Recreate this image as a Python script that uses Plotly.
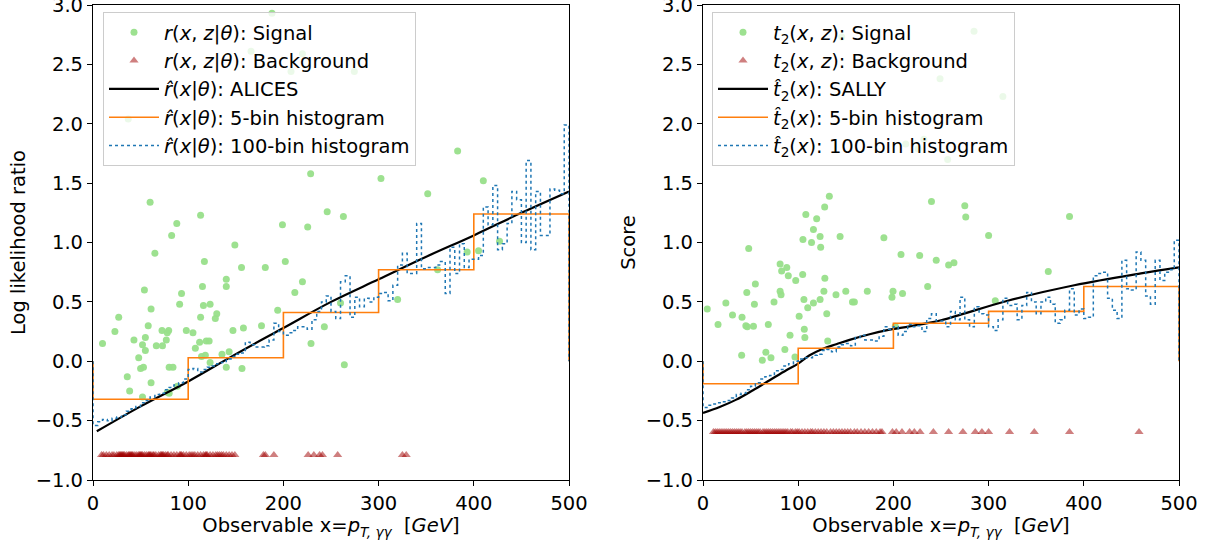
import numpy as np
import plotly.graph_objects as go

# ---------------- data: left panel (log likelihood ratio) ----------------
sig_left_x = [65, 117, 156, 181, 202, 140, 140, 220, 212, 54, 115, 93, 91, 116, 123, 130, 128.5, 113,
              61, 27, 194, 58, 23, 72.5, 79.5, 78, 98, 105, 147, 158, 177, 243, 43, 55, 77, 52, 66.5,
              73, 55, 112, 119, 122, 107.5, 10, 229, 48, 114, 118, 135.5, 143, 123, 50, 53, 80, 84,
              140, 156.5, 264, 36, 61, 38.5, 80, 88.6, 52, 78,
              246, 383, 228.6, 302.5, 410, 351.6, 246, 263, 199, 225.5, 427, 393, 405, 362, 320, 260,
              188, 166, 220, 208, 274.5, 37, 60, 88, 82.6, 113, 149]
sig_left_y = [0.91, 0.84, 0.79, 0.79, 0.84, 0.69, 0.63, 0.67, 0.58, 0.60, 0.63, 0.57, 0.48, 0.47, 0.48,
              0.40, 0.36, 0.37, 0.44, 0.37, 0.43, 0.30, 0.25, 0.26, 0.26, 0.24, 0.26, 0.24, 0.26, 0.28,
              0.30, 0.29, 0.18, 0.20, 0.18, 0.14, 0.13, 0.13, 0.09, 0.16, 0.17, 0.17, 0.11, 0.15, 0.15,
              0.03, 0.04, 0.05, 0.06, 0.08, -0.01, -0.06, -0.05, -0.05, -0.05, -0.05, -0.06, -0.03,
              -0.13, -0.18, -0.25, -0.27, -0.21, -0.30, -0.26,
              1.80, 1.77, 1.58, 1.54, 1.52, 1.41, 1.26, 1.22, 1.15, 1.13, 1.01, 0.92, 0.93, 0.77, 0.52, 0.49,
              2.93, 2.61, 2.59, 2.44, 2.44, 2.04, 1.34, 1.16, 1.06, 1.23, 0.98]

bkg_left_x = [9, 11, 14, 17, 20, 22, 25, 27, 28, 29, 30, 31, 32, 33, 35, 37, 38, 39, 40, 41, 42, 44,
              46, 48, 49, 50, 51, 52, 54, 56, 58, 59, 60, 61, 63, 64, 66, 69, 71, 72, 73, 74, 76, 78,
              79, 82, 85, 88, 91, 92, 93, 95, 98, 101, 103, 105, 107, 110, 113, 116, 118, 119, 120,
              123, 126, 129, 131, 133, 135, 137, 140, 143, 146, 149,
              179, 181, 190, 226, 232, 238, 241, 257, 325, 329]
bkg_left_level = -0.79

alices_x = [4, 50, 100, 150, 200, 250, 300, 350, 400, 450, 500]
alices_y = [-0.59, -0.38, -0.17, 0.06, 0.28, 0.50, 0.69, 0.88, 1.06, 1.25, 1.43]

hist5_left = [-0.32, 0.03, 0.41, 0.77, 1.24]

hist100_left = [-0.54, -0.51, -0.49, -0.50, -0.48, -0.47, -0.45, -0.42, -0.40, -0.38,
                -0.35, -0.33, -0.30, -0.28, -0.27, -0.24, -0.22, -0.20, -0.18, -0.15,
                -0.07, -0.06, -0.09, -0.07, -0.05, -0.04, -0.02, -0.01, 0.02, 0.04,
                0.06, 0.07, 0.16, 0.14, 0.12, 0.12, 0.13, 0.18, 0.32, 0.25,
                0.22, 0.24, 0.26, 0.29, 0.29, 0.27, 0.35, 0.42, 0.50, 0.55,
                0.42, 0.36, 0.67, 0.72, 0.37, 0.54, 0.46, 0.53, 0.50, 0.54,
                0.57, 0.58, 0.51, 0.64, 0.81, 0.91, 0.74, 0.74, 1.16, 0.78,
                0.79, 0.79, 0.81, 0.84, 0.57, 0.96, 0.74, 0.99, 0.79, 0.86,
                0.86, 0.89, 1.30, 1.15, 1.48, 0.94, 0.99, 1.16, 1.43, 1.36,
                1.00, 1.69, 0.94, 1.43, 1.06, 1.06, 1.45, 1.44, 1.41, 1.99]

# ---------------- data: right panel (score) ----------------
sig_right_x = [284.7, 145.7, 249, 213, 232, 226, 257, 315, 132.7, 108, 127.8, 119.4, 116, 105, 114,
               123, 123.6, 144, 190, 240, 275, 276, 300, 48, 81, 82.6, 88, 89.6, 97.4, 104.7, 55, 46,
               81, 82, 106, 116, 123, 128, 127, 139.7, 150, 157, 159, 172.6, 208, 227.6, 245, 258,
               263.6, 236, 199.6, 198.5, 209.6, 307, 4.5, 24, 31, 41, 54, 74.6, 15.8, 45, 46.5, 53,
               68.6, 101, 110, 130, 106.4, 107, 91.4, 131, 86, 66, 71.4, 62.3, 40.6, 96.6, 202, 385,
               362.7]
sig_right_y = [2.78, 2.73, 2.38, 1.83, 1.87, 1.79, 1.70, 2.23, 1.39, 1.235, 1.30, 1.20, 1.11, 1.025,
               1.00, 1.05, 0.96, 1.05, 1.04, 1.345, 1.31, 1.215, 1.06, 0.95, 0.82, 0.76, 0.79, 0.72,
               0.68, 0.73, 0.65, 0.58, 0.59, 0.56, 0.52, 0.49, 0.52, 0.70, 0.59, 0.56, 0.59, 0.50,
               0.50, 0.59, 0.90, 0.89, 0.85, 0.81, 0.83, 0.63, 0.59, 0.54, 0.57, 0.51, 0.44, 0.49,
               0.39, 0.37, 0.48, 0.50, 0.31, 0.30, 0.29, 0.295, 0.31, 0.38, 0.45, 0.40, 0.27, 0.20,
               0.22, 0.17, 0.10, 0.076, 0.03, 0.008, 0.05, 0.036, 0.295, 1.22, 0.755]

bkg_right_x = [11, 13, 15, 17, 19, 21, 23, 25, 27, 29, 31, 33, 35, 37, 39, 41, 44, 46, 48, 50, 52,
               54, 56, 58, 60, 63, 65, 67, 69, 71, 73, 75, 77, 79, 81, 83, 85, 87, 89, 92, 94, 97,
               99, 101, 104, 107, 110, 113, 115, 118, 121, 124, 127, 130, 134, 137, 140, 143, 146,
               149, 152, 155, 159, 162, 166, 170, 174, 178, 182, 186, 188,
               199, 203, 209, 217, 222, 228, 242, 258, 273, 286, 293, 300, 322, 348, 385, 458]
bkg_right_level = -0.595

sally_x = [0, 17.5, 35, 52.5, 70, 87.5, 100, 112, 126, 140, 154, 175, 196, 217, 250, 320, 390, 460, 500]
sally_y = [-0.435, -0.385, -0.323, -0.244, -0.16, -0.076, -0.02, 0.05, 0.106, 0.143, 0.18, 0.227,
           0.266, 0.294, 0.345, 0.51, 0.64, 0.74, 0.79]

hist5_right = [-0.19, 0.11, 0.32, 0.42, 0.63]

hist100_right = [-0.39, -0.37, -0.36, -0.35, -0.34, -0.33, -0.31, -0.28, -0.27, -0.24,
                 -0.21, -0.18, -0.15, -0.13, -0.12, -0.08, -0.07, -0.04, -0.02, 0.00,
                 0.02, 0.03, 0.03, 0.05, 0.06, 0.09, 0.10, 0.08, 0.12, 0.14,
                 0.15, 0.13, 0.20, 0.22, 0.18, 0.18, 0.17, 0.21, 0.29, 0.27,
                 0.29, 0.22, 0.25, 0.31, 0.29, 0.30, 0.25, 0.36, 0.40, 0.34,
                 0.34, 0.29, 0.42, 0.35, 0.54, 0.35, 0.29, 0.46, 0.40, 0.39,
                 0.29, 0.26, 0.35, 0.53, 0.47, 0.48, 0.35, 0.47, 0.58, 0.50,
                 0.40, 0.50, 0.54, 0.48, 0.32, 0.35, 0.43, 0.61, 0.39, 0.44,
                 0.36, 0.37, 0.72, 0.74, 0.75, 0.53, 0.43, 0.36, 0.85, 0.61,
                 0.60, 0.92, 0.85, 0.55, 0.48, 0.85, 0.68, 0.75, 0.77, 1.02]

x_range = [0, 500]
x_ticks = [0, 100, 200, 300, 400, 500]
y_range = [-1.0, 3.0]
y_ticks = [-1.0, -0.5, 0.0, 0.5, 1.0, 1.5, 2.0, 2.5, 3.0]

# ---------------- helpers ----------------
def step_xy(values, lo=0.0, hi=500.0):
    edges = np.linspace(lo, hi, len(values) + 1)
    xs = [edges[0]] + list(edges[:-1]) + [edges[-1], edges[-1]]
    ys = [0.0] + list(values) + [values[-1], 0.0]
    return xs, ys

GREEN = "#98df8a"
RED = "rgba(160,0,0,0.5)"
BLACK = "black"
ORANGE = "#ff7f0e"
BLUE = "#1f77b4"
FONT = "DejaVu Sans"
FS = 19.5
LFS = 19.5

fig = go.Figure()

def add_panel(xa, ya, legend, sx, sy, bx, blevel, cx, cy, h5, h100, names):
    fig.add_trace(go.Scatter(x=sx, y=sy, mode="markers", xaxis=xa, yaxis=ya, legend=legend,
                             marker=dict(color=GREEN, size=7, opacity=0.95),
                             name=names[0]))
    fig.add_trace(go.Scatter(x=bx, y=[blevel] * len(bx), mode="markers", xaxis=xa, yaxis=ya,
                             legend=legend,
                             marker=dict(color=RED, size=8, symbol="triangle-up"),
                             name=names[1]))
    fig.add_trace(go.Scatter(x=cx, y=cy, mode="lines", xaxis=xa, yaxis=ya, legend=legend,
                             line=dict(color=BLACK, width=2.2, shape="spline"),
                             name=names[2]))
    hx, hy = step_xy(h5)
    fig.add_trace(go.Scatter(x=hx, y=hy, mode="lines", xaxis=xa, yaxis=ya, legend=legend,
                             line=dict(color=ORANGE, width=1.6, shape="hv"),
                             name=names[3]))
    hx, hy = step_xy(h100)
    fig.add_trace(go.Scatter(x=hx, y=hy, mode="lines", xaxis=xa, yaxis=ya, legend=legend,
                             line=dict(color=BLUE, width=1.5, shape="hv", dash="dot"),
                             name=names[4]))

rr = "<i>r</i>(<i>x</i>, <i>z</i>|<i>θ</i>)"
rh = "<i>r\u0302</i>(<i>x</i>|<i>θ</i>)"
tt = "<i>t</i><sub>2</sub>(<i>x</i>, <i>z</i>)"
th = "<i>t\u0302</i><sub>2</sub>(<i>x</i>)"

add_panel("x", "y", "legend", sig_left_x, sig_left_y, bkg_left_x, bkg_left_level,
          alices_x, alices_y, hist5_left, hist100_left,
          [rr + ": Signal", rr + ": Background", rh + ": ALICES",
           rh + ": 5-bin histogram", rh + ": 100-bin histogram"])
add_panel("x2", "y2", "legend2", sig_right_x, sig_right_y, bkg_right_x, bkg_right_level,
          sally_x, sally_y, hist5_right, hist100_right,
          [tt + ": Signal", tt + ": Background", th + ": SALLY",
           th + ": 5-bin histogram", th + ": 100-bin histogram"])

W, H = 1217, 546
ml, mr, mt, mb = 93, 38, 5, 66
pw = W - ml - mr
ph = H - mt - mb
d1 = [0, (569 - 93) / pw]
d2 = [(703 - 93) / pw, 1]

axis_common = dict(showline=True, linecolor="black", linewidth=1.2, mirror=True,
                   ticks="outside", ticklen=5, tickwidth=1.2, tickcolor="black",
                   showgrid=False, zeroline=False, automargin=False,
                   ticklabeloverflow="allow",
                   tickfont=dict(family=FONT, size=FS, color="black"))
xtitle = "Observable x=<i>p</i><sub><i>T, γγ</i></sub>  [<i>GeV</i>]"

legend_common = dict(bgcolor="rgba(255,255,255,0.8)", bordercolor="#cccccc", borderwidth=1,
                     font=dict(family=FONT, size=LFS, color="black"),
                     xanchor="left", yanchor="top", tracegroupgap=0, itemwidth=50)

fig.update_layout(
    width=W, height=H,
    margin=dict(l=ml, r=mr, t=mt, b=mb, autoexpand=False),
    paper_bgcolor="white", plot_bgcolor="white",
    font=dict(family=FONT, size=FS, color="black"),
    showlegend=True,
    xaxis=dict(domain=d1, range=x_range, tickvals=x_ticks, anchor="y",
               title=dict(text=xtitle, font=dict(family=FONT, size=FS), standoff=4), **axis_common),
    yaxis=dict(range=y_range, tickvals=y_ticks, tickformat=".1f", anchor="x",
               title=dict(text="Log likelihood ratio", font=dict(family=FONT, size=FS), standoff=4),
               **axis_common),
    xaxis2=dict(domain=d2, range=x_range, tickvals=x_ticks, anchor="y2",
                title=dict(text=xtitle, font=dict(family=FONT, size=FS), standoff=4), **axis_common),
    yaxis2=dict(range=y_range, tickvals=y_ticks, tickformat=".1f", anchor="x2",
                title=dict(text="Score", font=dict(family=FONT, size=FS), standoff=4),
                **axis_common),
    legend=dict(x=(103 - 93) / pw, y=1 - (12 - mt) / ph, **legend_common),
    legend2=dict(x=(712 - 93) / pw, y=1 - (12 - mt) / ph, **legend_common),
)

fig.write_html("out.html", config={"displayModeBar": False},
               post_script="document.body.style.margin='0';document.body.style.overflow='hidden';")
